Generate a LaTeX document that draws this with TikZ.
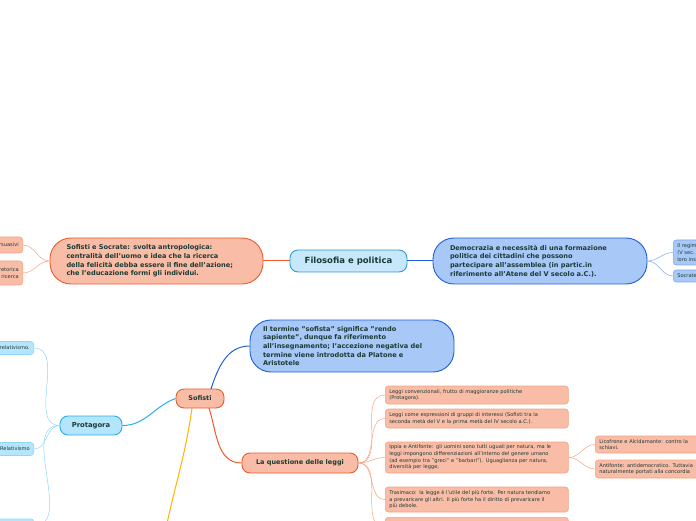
\documentclass[tikz,border=0pt]{standalone}
\usepackage{fontspec}
\setmainfont{DejaVu Sans}
\definecolor{ink}{HTML}{1C3A35}
\definecolor{salmon}{HTML}{F9BCA6}
\definecolor{ored}{HTML}{EC5B2C}
\definecolor{lor}{HTML}{F4A482}
\definecolor{bfill}{HTML}{A8C8F8}
\definecolor{bdark}{HTML}{1E5ED8}
\definecolor{blite}{HTML}{7FA8EE}
\definecolor{cfill}{HTML}{C6E8FA}
\definecolor{cbord}{HTML}{2F98D6}
\definecolor{pfill}{HTML}{B4E5FC}
\definecolor{pbord}{HTML}{27AEEC}
\definecolor{plite}{HTML}{8FD6F6}
\definecolor{amber}{HTML}{FFB200}
\begin{document}
\begin{tikzpicture}[x=1pt,y=1pt,
  bigo/.style={draw=ored, fill=salmon, line width=0.9pt, rounded corners=21pt, text=ink,
    align=left, font=\bfseries\fontsize{6.6}{8.8}\selectfont},
  bigb/.style={draw=bdark, fill=bfill, line width=0.9pt, rounded corners=21pt, text=ink,
    align=left, font=\bfseries\fontsize{6.6}{8.6}\selectfont},
  topico/.style={draw=ored, fill=salmon, line width=0.9pt, rounded corners=8pt, text=ink,
    font=\bfseries\fontsize{6.5}{7.5}\selectfont},
  leafo/.style={draw=lor, fill=salmon, line width=0.6pt, rounded corners=3pt, text=ink,
    align=left, inner xsep=4pt, inner ysep=1.5pt, text width=#1,
    font=\fontsize{5.1}{6.7}\selectfont},
  leafb/.style={draw=blite, fill=bfill, line width=0.6pt, rounded corners=3pt, text=ink,
    align=left, inner xsep=4pt, inner ysep=1.5pt, text width=#1,
    font=\fontsize{5.1}{6.7}\selectfont},
  leafp/.style={draw=plite, fill=pfill, line width=0.6pt, rounded corners=3pt, text=ink,
    align=right, inner xsep=4pt, inner ysep=1.5pt, text width=#1,
    font=\fontsize{5.1}{6.7}\selectfont},
  lino/.style={lor, line width=0.5pt},
  linb/.style={blite, line width=0.5pt},
  linp/.style={plite, line width=0.5pt}
]
\useasboundingbox (0,0) rectangle (696,520);

% central
\node[draw=cbord, fill=cfill, rounded corners=8pt, line width=0.9pt, minimum width=117pt,
  minimum height=22pt, text=ink, font=\bfseries\fontsize{8.5}{10}\selectfont] (fil) at (348.5,259) {Filosofia e politica};

\node[bigo, text width=180pt, inner xsep=16.5pt, minimum height=46pt] (ss) at (156.5,259)
  {Sofisti e Socrate: svolta antropologica:\\centralità dell'uomo e idea che la ricerca\\della felicità debba essere il fine dell'azione;\\che l'educazione formi gli individui.};

\node[bigb, text width=180pt, inner xsep=17pt, minimum height=46pt] (dem) at (540,259)
  {Democrazia e necessità di una formazione\\politica dei cittadini che possono\\partecipare all'assemblea (in partic.in\\riferimento all'Atene del V secolo a.C.).};

\draw[ored, line width=1pt] (ss.east) -- (fil.west);
\draw[bdark, line width=1pt] (fil.east) -- (dem.west);

% right edge children
\node[leafb=100pt, anchor=west, minimum height=25pt] (r1) at (673,267.5) {Il regime\\(V sec.\\loro ins};
\node[leafb=100pt, anchor=west, minimum height=12pt] (r2) at (673,244) {Socrate};
\draw[linb] (dem.east) to[out=0,in=180] (r1.west);
\draw[linb] (dem.east) to[out=0,in=180] (r2.west);

% left edge children
\node[leafo=60pt, align=right, anchor=east, minimum height=16pt] (l1) at (23,275) {persuasivi};
\node[leafo=60pt, align=right, anchor=east, minimum height=24pt] (l2) at (23,247) {retorica\\ricerca};
\draw[lino] (ss.west) to[out=180,in=0] (l1.east);
\draw[lino] (ss.west) to[out=180,in=0] (l2.east);

% Sofisti branch
\node[topico, minimum width=48pt, minimum height=19pt] (sof) at (200,121.5) {Sofisti};

\node[bigb, text width=178pt, inner xsep=13pt, minimum height=52pt] (term) at (352,174)
  {Il termine "sofista" significa "rendo\\sapiente", dunque fa riferimento\\all'insegnamento; l'accezione negativa del\\termine viene introdotta da Platone e\\Aristotele};

\node[draw=pbord, fill=pfill, rounded corners=8pt, line width=0.9pt, minimum width=62pt,
  minimum height=19pt, text=ink, font=\bfseries\fontsize{6.8}{8}\selectfont] (prot) at (91,94.5) {Protagora};

\node[topico, minimum width=116pt, minimum height=20pt] (leggi) at (300,57) {La questione delle leggi};

\coordinate (sofTop) at (211,131);
\coordinate (sofBot) at (192,112);
\coordinate (sofBotR) at (209,112);
\coordinate (yelEnd) at (166,-8);

\draw[bdark, line width=1pt] (sofTop) to[out=72,in=180] (term.west);
\draw[pbord, line width=1pt] (sof.west) to[out=200,in=0] (prot.east);
\draw[ored, line width=1pt] (sofBotR) to[out=-72,in=180] (leggi.west);
\draw[amber, line width=1pt] (sofBot) to[out=-98,in=78] (yelEnd);

% Protagora children
\node[leafp=60pt, anchor=east, minimum height=13pt] (p1) at (34,172) {relativismo.};
\node[leafp=60pt, anchor=east, minimum height=13pt] (p2) at (34,71) {Relativismo};
\node[leafp=60pt, anchor=north east, minimum height=14pt] (p3) at (34,1.5) {};
\draw[linp] (prot.west) to[out=180,in=0] (p1.east);
\draw[linp] (prot.west) to[out=180,in=0] (p2.east);
\draw[linp] (prot.west) to[out=180,in=0] (p3.east);

% leggi children
\node[leafo=175pt, anchor=west, minimum height=18pt] (la) at (385,125)
  {Leggi convenzionali, frutto di maggioranze politiche\\(Protagora).};
\node[leafo=175pt, anchor=west, minimum height=19pt] (lb) at (385,101.5)
  {Leggi come espressioni di gruppi di interessi (Sofisti tra la\\seconda metà del V e la prima metà del IV secolo a.C.).};
\node[leafo=175pt, anchor=west, minimum height=31pt] (lc) at (385,62.5)
  {Ippia e Antifonte: gli uomini sono tutti uguali per natura, ma le\\leggi impongono differenziazioni all'interno del genere umano\\(ad esempio tra "greci" e "barbari"). Uguaglianza per natura,\\diversità per legge,};
\node[leafo=175pt, anchor=west, minimum height=25pt] (ld) at (385,20.5)
  {Trasimaco: la legge è l'utile del più forte. Per natura tendiamo\\a prevaricare gli altri. Il più forte ha il diritto di prevaricare il\\più debole.};
\node[leafo=175pt, anchor=north west, minimum height=20pt] (le) at (385,3) {};
\draw[lino] (leggi.east) to[out=0,in=180] (la.west);
\draw[lino] (leggi.east) to[out=0,in=180] (lb.west);
\draw[lino] (leggi.east) to[out=0,in=180] (lc.west);
\draw[lino] (leggi.east) to[out=0,in=180] (ld.west);
\draw[lino] (leggi.east) to[out=0,in=180] (le.west);

% Ippia children
\node[leafo=130pt, anchor=west, minimum height=17pt] (lf) at (595,75.5)
  {Licofrone e Alcidamante: contro la\\schiavi.};
\node[leafo=130pt, anchor=west, minimum height=18pt] (lg) at (595,51)
  {Antifonte: antidemocratico. Tuttavia\\naturalmente portati alla concordia};
\draw[lino] (lc.east) to[out=0,in=180] (lf.west);
\draw[lino] (lc.east) to[out=0,in=180] (lg.west);
\end{tikzpicture}
\end{document}
